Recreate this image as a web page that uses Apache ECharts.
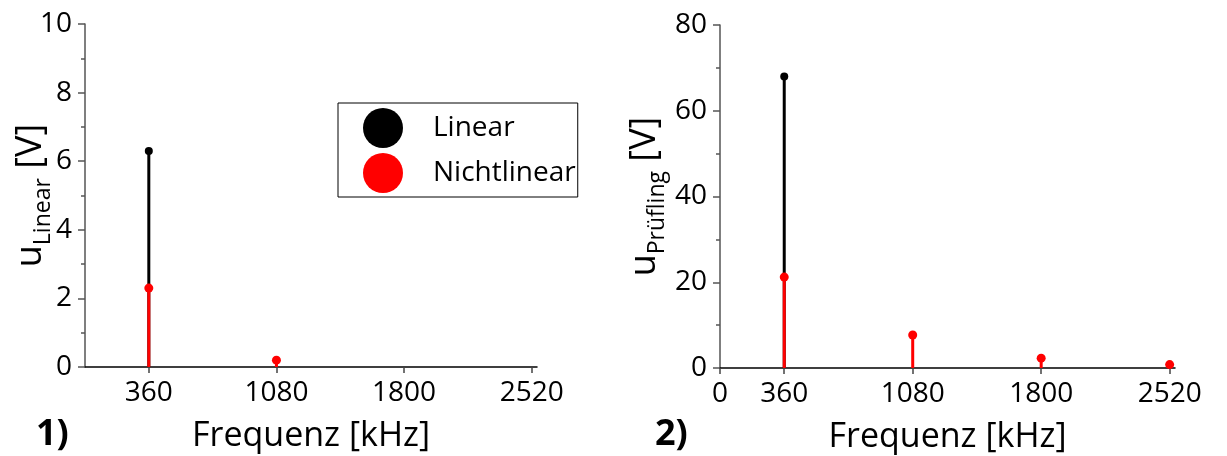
<!DOCTYPE html>
<html>
<head>
<meta charset="utf-8">
<script src="https://cdn.jsdelivr.net/npm/echarts@6/dist/echarts.min.js"></script>
<style>
html,body{margin:0;padding:0;background:#fff;}
#c{width:1227px;height:456px;}
</style>
</head>
<body>
<div id="c"></div>
<script>
// ---- data ----
const leftLinearFreq = [360];
const leftLinearVal = [6.3];
const leftNonlinFreq = [360, 1080];
const leftNonlinVal = [2.3, 0.2];
const rightLinearFreq = [360];
const rightLinearVal = [68];
const rightNonlinFreq = [360, 1080, 1800, 2520];
const rightNonlinVal = [21.2, 7.7, 2.3, 0.8];
const leftXTicks = [360, 1080, 1800, 2520];
const rightXTicks = [0, 360, 1080, 1800, 2520];
const seriesNames = ['Linear', 'Nichtlinear'];
const xName = 'Frequenz [kHz]';

const FONT = 'Open Sans';
const pairs = (xs, ys) => xs.map((x, i) => [x, ys[i]]);

function xAxis(grid, ticks) {
  return {
    type: 'value', gridIndex: grid, min: 0, max: 2550,
    name: xName, nameLocation: 'middle', nameGap: 52, nameMoveOverlap: false,
    nameTextStyle: {fontFamily: FONT, fontSize: 34, color: '#000'},
    axisLine: {show: true, onZero: false, lineStyle: {color: '#000', width: 1.5}},
    axisTick: {show: true, customValues: ticks, length: 6, lineStyle: {color: '#444', width: 1.5}},
    axisLabel: {customValues: ticks, formatter: v => String(v), fontFamily: FONT, fontSize: 28, color: '#000', margin: 12},
    splitLine: {show: false}
  };
}
function yAxis(grid, max, interval, sub, gap) {
  return {
    type: 'value', gridIndex: grid, min: 0, max: max, interval: interval,
    name: '{u|u}{s|' + sub + '}{u| [V]}', nameLocation: 'middle', nameRotate: 90, nameGap: gap,
    nameMoveOverlap: false,
    nameTextStyle: {
      rich: {
        u: {fontFamily: FONT, fontSize: 36, color: '#000', lineHeight: 36, verticalAlign: 'top'},
        s: {fontFamily: FONT, fontSize: 23, color: '#000', lineHeight: 23, verticalAlign: 'top', padding: [19, 0, 0, 0]}
      }
    },
    axisLine: {show: true, lineStyle: {color: '#555', width: 1.5}},
    axisTick: {show: true, length: 7, lineStyle: {color: '#555', width: 1.5}},
    minorTick: {show: true, splitNumber: 2, length: 4, lineStyle: {color: '#555', width: 1.5}},
    axisLabel: {fontFamily: FONT, fontSize: 28, color: '#000', margin: 13},
    splitLine: {show: false}
  };
}
function stems(name, grid, data, color) {
  return {
    type: 'bar', name: name + ' stem', xAxisIndex: grid, yAxisIndex: grid,
    data: data, barWidth: 3, barGap: '-100%', itemStyle: {color: color}, silent: true
  };
}
function dots(name, grid, data, color, size) {
  return {
    type: 'scatter', name: name, xAxisIndex: grid, yAxisIndex: grid,
    data: data, symbol: 'circle', symbolSize: size, itemStyle: {color: color, opacity: 1}, z: 3
  };
}

const chart = echarts.init(document.getElementById('c'), null, {renderer: 'canvas'});
chart.setOption({
  animation: false,
  backgroundColor: '#fff',
  grid: [
    {left: 85, right: 690, top: 24, bottom: 89, containLabel: false, outerBoundsMode: 'none'},
    {left: 720, right: 52, top: 25, bottom: 88, containLabel: false, outerBoundsMode: 'none'}
  ],
  xAxis: [xAxis(0, leftXTicks), xAxis(1, rightXTicks)],
  yAxis: [yAxis(0, 10, 2, 'Linear', 36), yAxis(1, 80, 20, 'Prüfling', 57)],
  legend: {
    data: [
      {name: seriesNames[0], icon: 'circle', itemStyle: {color: '#000'}},
      {name: seriesNames[1], icon: 'circle', itemStyle: {color: '#ff0000'}}
    ],
    orient: 'vertical', left: 338, top: 103,
    itemWidth: 40, itemHeight: 40, itemGap: 5,
    padding: [5, 2, 4, 25],
    borderColor: '#000', borderWidth: 1,
    textStyle: {fontFamily: FONT, fontSize: 28, color: '#000', padding: [0, 0, 0, 25]},
    selectedMode: false
  },
  graphic: [
    {type: 'text', left: 36, top: 417, style: {text: '1)', fontFamily: FONT, fontSize: 36, fontWeight: 'bold', fill: '#000'}},
    {type: 'text', left: 655, top: 417, style: {text: '2)', fontFamily: FONT, fontSize: 36, fontWeight: 'bold', fill: '#000'}}
  ],
  series: [
    stems(seriesNames[0], 0, pairs(leftLinearFreq, leftLinearVal), '#000'),
    stems(seriesNames[1], 0, pairs(leftNonlinFreq, leftNonlinVal), '#ff0000'),
    dots(seriesNames[0], 0, pairs(leftLinearFreq, leftLinearVal), '#000', 8),
    dots(seriesNames[1], 0, pairs(leftNonlinFreq, leftNonlinVal), '#ff0000', 9),
    stems(seriesNames[0], 1, pairs(rightLinearFreq, rightLinearVal), '#000'),
    stems(seriesNames[1], 1, pairs(rightNonlinFreq, rightNonlinVal), '#ff0000'),
    dots(seriesNames[0], 1, pairs(rightLinearFreq, rightLinearVal), '#000', 8),
    dots(seriesNames[1], 1, pairs(rightNonlinFreq, rightNonlinVal), '#ff0000', 9)
  ]
});
</script>
</body>
</html>
